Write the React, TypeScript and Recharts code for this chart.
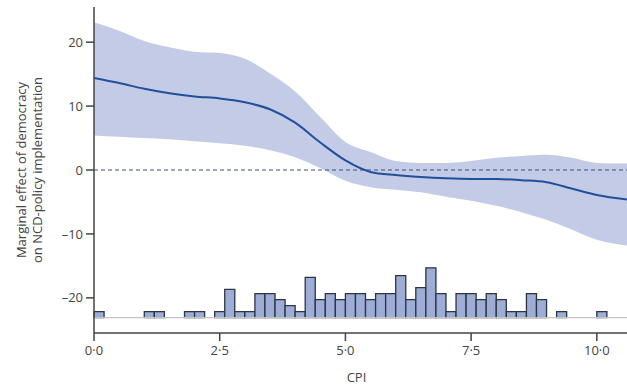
import React from "react";
import {
  ComposedChart,
  Area,
  Line,
  XAxis,
  YAxis,
  ReferenceLine,
  ReferenceArea,
} from "recharts";

// marginal effect curve with 95% band
const cpi = [0, 0.5, 1, 1.5, 2, 2.5, 3, 3.5, 4, 4.5, 5, 5.5, 6, 6.5, 7, 7.5, 8, 8.5, 9, 9.5, 10, 10.6];
const effect = [14.4, 13.6, 12.7, 12.0, 11.5, 11.2, 10.6, 9.5, 7.4, 4.3, 1.5, -0.3, -0.8, -1.1, -1.3, -1.4, -1.4, -1.6, -1.9, -2.9, -3.9, -4.6];
const lower = [5.4, 5.2, 5.0, 4.8, 4.5, 4.2, 3.8, 3.1, 2.0, 0.3, -1.7, -2.7, -3.1, -3.5, -4.2, -4.8, -5.6, -6.6, -7.8, -9.3, -10.9, -11.8];
const upper = [23.1, 21.8, 20.2, 19.2, 18.5, 18.3, 17.4, 15.1, 12.3, 8.3, 4.4, 2.8, 1.4, 1.1, 1.1, 1.4, 1.9, 2.2, 2.4, 1.9, 1.1, 1.0];

// histogram of CPI (bins of 0.2)
const binStart = [0, 1.0, 1.2, 1.8, 2.0, 2.4, 2.6, 2.8, 3.0, 3.2, 3.4, 3.6, 3.8, 4.0, 4.2, 4.4, 4.6, 4.8, 5.0, 5.2, 5.4, 5.6, 5.8, 6.0, 6.2, 6.4, 6.6, 6.8, 7.0, 7.2, 7.4, 7.6, 7.8, 8.0, 8.2, 8.4, 8.6, 8.8, 9.2, 10.0];
const binCount = [1, 1, 1, 1, 1, 1, 4.7, 1, 1, 4, 4, 3, 2, 1, 6.7, 3, 4, 3, 4, 4, 3, 4, 4, 7, 3, 5, 8.3, 4, 1, 4, 4, 3, 4, 3, 1, 1, 4, 3, 1, 1];
const BIN_WIDTH = 0.2;
const HIST_BASE = -23.1;
const HIST_UNIT = 0.94;

const xTicks = [0, 2.5, 5, 7.5, 10];
const yTicks = [-20, -10, 0, 10, 20];

const data = cpi.map((x, i) => ({
  x,
  est: effect[i],
  band: [lower[i], upper[i]],
}));

const FONT = "'Open Sans', sans-serif";
const TEXT = "#444";

const fmtX = (v: number) => v.toFixed(1).replace(".", "·");
const fmtY = (v: number) => (v < 0 ? "–" + Math.abs(v) : String(v));

function YLabel(props: any) {
  const vb = props.viewBox || {};
  const cy = vb.y + vb.height / 2;
  return (
    <g>
      <text x={21} y={cy} transform={`rotate(-90, 21, ${cy})`} textAnchor="middle" dominantBaseline="central" fontSize={13} fill={TEXT} fontFamily={FONT}>
        Marginal effect of democracy
      </text>
      <text x={37} y={cy} transform={`rotate(-90, 37, ${cy})`} textAnchor="middle" dominantBaseline="central" fontSize={13} fill={TEXT} fontFamily={FONT}>
        on NCD-policy implementation
      </text>
    </g>
  );
}

export default function App() {
  return (
    <div style={{ position: "absolute", left: 0, top: 0, background: "#fff" }}>
      <ComposedChart width={627} height={387} data={data} margin={{ top: 7, right: 0, bottom: 0, left: 0 }}>
        <XAxis
          dataKey="x"
          type="number"
          domain={[0, 10.6]}
          ticks={xTicks}
          tickFormatter={fmtX}
          allowDataOverflow
          height={54}
          tickSize={8}
          tickMargin={5}
          axisLine={{ stroke: "#444", strokeWidth: 1.5 }}
          tickLine={{ stroke: "#444", strokeWidth: 1.5 }}
          tick={{ fill: TEXT, fontSize: 13, fontFamily: FONT }}
          label={{ value: "CPI", position: "insideBottom", offset: 5, dx: -4, fill: TEXT, fontSize: 13, fontFamily: FONT }}
        />
        <YAxis
          type="number"
          domain={[-25.5, 25.5]}
          ticks={yTicks}
          tickFormatter={fmtY}
          allowDataOverflow
          width={94}
          tickSize={8}
          tickMargin={3}
          axisLine={{ stroke: "#444", strokeWidth: 1.5 }}
          tickLine={{ stroke: "#444", strokeWidth: 1.5 }}
          tick={{ fill: TEXT, fontSize: 13, fontFamily: FONT }}
          label={<YLabel />}
        />
        <Area
          dataKey="band"
          type="monotone"
          stroke="none"
          fill="#c3cbe7"
          fillOpacity={1}
          isAnimationActive={false}
        />
        <ReferenceLine y={0} stroke="#3b5275" strokeWidth={1} strokeDasharray="4 3" />
        <ReferenceLine y={HIST_BASE} stroke="#c4c4c4" strokeWidth={1.2} />
        {binStart.map((s, i) => (
          <ReferenceArea
            key={i}
            x1={s}
            x2={s + BIN_WIDTH}
            y1={HIST_BASE}
            y2={HIST_BASE + binCount[i] * HIST_UNIT}
            fill="#9dadd6"
            fillOpacity={1}
            stroke="#2d3442"
            strokeWidth={1.3}
            strokeOpacity={1}
            ifOverflow="visible"
          />
        ))}
        <Line
          dataKey="est"
          type="monotone"
          stroke="#21509a"
          strokeWidth={2}
          dot={false}
          activeDot={false}
          isAnimationActive={false}
        />
      </ComposedChart>
    </div>
  );
}
